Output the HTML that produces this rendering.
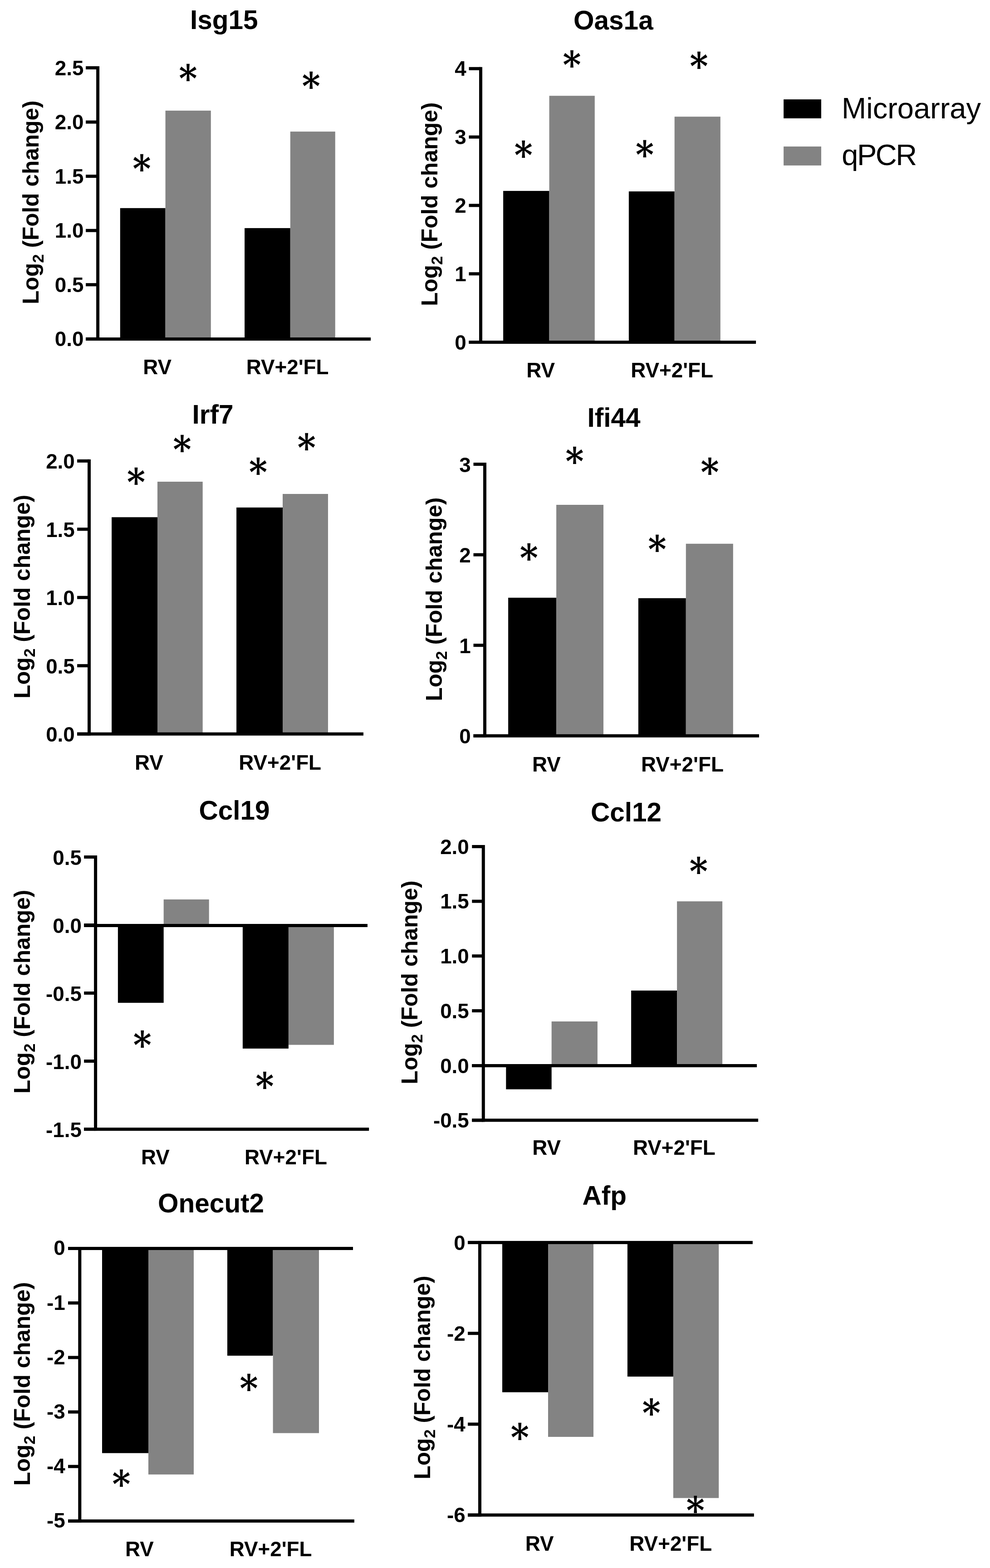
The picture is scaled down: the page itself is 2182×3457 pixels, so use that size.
<!DOCTYPE html>
<html lang="en">
<head>
<meta charset="utf-8">
<title>Microarray vs qPCR validation</title>
<style>
html,body{margin:0;padding:0;background:#fff;}
body{width:2182px;height:3457px;overflow:hidden;}
svg{display:block;}
text{fill:#000;font-family:"Liberation Sans",sans-serif;}
.tk{font-weight:bold;font-size:45.8px;text-anchor:end;}
.xl{font-weight:bold;font-size:45.8px;}
.tt{font-weight:bold;font-size:58.5px;}
.yl{font-weight:bold;font-size:49.6px;}
.yl .sub{font-size:35.0px;}
.lg{font-size:65.0px;}
.as{font-family:"DejaVu Serif",serif;font-weight:bold;font-size:83.2px;}
</style>
</head>
<body>
<svg width="2182" height="3457" viewBox="0 0 2182 3457">
<rect x="0" y="0" width="2182" height="3457" fill="#fff"/>
<g id="panel-Isg15">
<rect x="264.8" y="458.8" width="99.8" height="288.5" fill="#000"/>
<rect x="364.6" y="243.9" width="100.2" height="503.4" fill="#838383"/>
<rect x="539.1" y="502.9" width="100.7" height="244.4" fill="#000"/>
<rect x="639.8" y="290.1" width="99" height="457.2" fill="#838383"/>
<rect x="212.1" y="146" width="7" height="604.8" fill="#000"/>
<rect x="189.1" y="146" width="26.5" height="7" fill="#000"/>
<rect x="189.1" y="265.6" width="26.5" height="7" fill="#000"/>
<rect x="189.1" y="385.1" width="26.5" height="7" fill="#000"/>
<rect x="189.1" y="504.7" width="26.5" height="7" fill="#000"/>
<rect x="189.1" y="624.2" width="26.5" height="7" fill="#000"/>
<rect x="189.1" y="743.8" width="26.5" height="7" fill="#000"/>
<rect x="189.1" y="744" width="628" height="7" fill="#000"/>
<text transform="translate(184.5 165.55)" class="tk">2.5</text>
<text transform="translate(184.5 285.15)" class="tk">2.0</text>
<text transform="translate(184.5 404.65)" class="tk">1.5</text>
<text transform="translate(184.5 524.25)" class="tk">1.0</text>
<text transform="translate(184.5 643.75)" class="tk">0.5</text>
<text transform="translate(184.5 763.35)" class="tk">0.0</text>
<text transform="translate(315.15 825.3)" class="xl">RV</text>
<text transform="translate(542.65 825.3)" class="xl">RV+2'FL</text>
<text transform="translate(418.9 64.2)" class="tt">Isg15</text>
<text transform="translate(85 670.7) rotate(-90)" class="yl">Log<tspan class="sub" dy="10.8">2</tspan><tspan dy="-10.8"> (Fold change)</tspan></text>
<text transform="translate(394.15 201.57) scale(0.93 1)" class="as">*</text>
<text transform="translate(292.25 401.47) scale(0.93 1)" class="as">*</text>
<text transform="translate(665.45 218.57) scale(0.93 1)" class="as">*</text>
</g>
<g id="panel-Oas1a">
<rect x="1109.1" y="420.9" width="101.5" height="333.6" fill="#000"/>
<rect x="1210.6" y="211.2" width="100.2" height="543.3" fill="#838383"/>
<rect x="1385.9" y="422" width="100.8" height="332.5" fill="#000"/>
<rect x="1486.7" y="257.2" width="101.1" height="497.3" fill="#838383"/>
<rect x="1056" y="147.8" width="7" height="610.2" fill="#000"/>
<rect x="1033.5" y="147.8" width="26" height="7" fill="#000"/>
<rect x="1033.5" y="298.6" width="26" height="7" fill="#000"/>
<rect x="1033.5" y="449.4" width="26" height="7" fill="#000"/>
<rect x="1033.5" y="600.2" width="26" height="7" fill="#000"/>
<rect x="1033.5" y="751" width="26" height="7" fill="#000"/>
<rect x="1033.5" y="751" width="632.6" height="7" fill="#000"/>
<text transform="translate(1027.7 167.45)" class="tk">4</text>
<text transform="translate(1027.7 318.25)" class="tk">3</text>
<text transform="translate(1027.7 469.05)" class="tk">2</text>
<text transform="translate(1027.7 619.85)" class="tk">1</text>
<text transform="translate(1027.7 770.65)" class="tk">0</text>
<text transform="translate(1160.15 831.8)" class="xl">RV</text>
<text transform="translate(1390.15 831.8)" class="xl">RV+2'FL</text>
<text transform="translate(1264.05 65)" class="tt">Oas1a</text>
<text transform="translate(964.3 674.8) rotate(-90)" class="yl">Log<tspan class="sub" dy="10.8">2</tspan><tspan dy="-10.8"> (Fold change)</tspan></text>
<text transform="translate(1240.35 172.47) scale(0.93 1)" class="as">*</text>
<text transform="translate(1133.45 371.47) scale(0.93 1)" class="as">*</text>
<text transform="translate(1520.35 174.77) scale(0.93 1)" class="as">*</text>
<text transform="translate(1400.65 369.88) scale(0.93 1)" class="as">*</text>
</g>
<g id="panel-Irf7">
<rect x="246.1" y="1140.3" width="100.9" height="477.9" fill="#000"/>
<rect x="347" y="1062" width="99.7" height="556.2" fill="#838383"/>
<rect x="521.1" y="1118.9" width="101.9" height="499.3" fill="#000"/>
<rect x="623" y="1089" width="100" height="529.2" fill="#838383"/>
<rect x="193" y="1012.8" width="7" height="608.9" fill="#000"/>
<rect x="170.1" y="1012.8" width="26.4" height="7" fill="#000"/>
<rect x="170.1" y="1163.3" width="26.4" height="7" fill="#000"/>
<rect x="170.1" y="1313.8" width="26.4" height="7" fill="#000"/>
<rect x="170.1" y="1464.2" width="26.4" height="7" fill="#000"/>
<rect x="170.1" y="1614.7" width="26.4" height="7" fill="#000"/>
<rect x="170.1" y="1614.7" width="630.9" height="7" fill="#000"/>
<text transform="translate(164.8 1033.45)" class="tk">2.0</text>
<text transform="translate(164.8 1183.95)" class="tk">1.5</text>
<text transform="translate(164.8 1334.45)" class="tk">1.0</text>
<text transform="translate(164.8 1484.85)" class="tk">0.5</text>
<text transform="translate(164.8 1635.35)" class="tk">0.0</text>
<text transform="translate(297.05 1697.1)" class="xl">RV</text>
<text transform="translate(526.25 1697.1)" class="xl">RV+2'FL</text>
<text transform="translate(423.55 934)" class="tt">Irf7</text>
<text transform="translate(66.3 1540) rotate(-90)" class="yl">Log<tspan class="sub" dy="10.8">2</tspan><tspan dy="-10.8"> (Fold change)</tspan></text>
<text transform="translate(279.65 1092.38) scale(0.93 1)" class="as">*</text>
<text transform="translate(381.25 1020.08) scale(0.93 1)" class="as">*</text>
<text transform="translate(548.65 1069.88) scale(0.93 1)" class="as">*</text>
<text transform="translate(655.55 1016.08) scale(0.93 1)" class="as">*</text>
</g>
<g id="panel-Ifi44">
<rect x="1120.1" y="1317.8" width="106" height="304.5" fill="#000"/>
<rect x="1226.1" y="1113" width="103.9" height="509.3" fill="#838383"/>
<rect x="1406.9" y="1318.8" width="104.9" height="303.5" fill="#000"/>
<rect x="1511.8" y="1198.8" width="104" height="423.5" fill="#838383"/>
<rect x="1065" y="1020" width="7" height="605.8" fill="#000"/>
<rect x="1043.5" y="1020" width="25" height="7" fill="#000"/>
<rect x="1043.5" y="1219.6" width="25" height="7" fill="#000"/>
<rect x="1043.5" y="1419.2" width="25" height="7" fill="#000"/>
<rect x="1043.5" y="1618.8" width="25" height="7" fill="#000"/>
<rect x="1043.5" y="1618.8" width="629.5" height="7" fill="#000"/>
<text transform="translate(1037.7 1040.55)" class="tk">3</text>
<text transform="translate(1037.7 1240.15)" class="tk">2</text>
<text transform="translate(1037.7 1439.75)" class="tk">1</text>
<text transform="translate(1037.7 1639.35)" class="tk">0</text>
<text transform="translate(1172.95 1701.1)" class="xl">RV</text>
<text transform="translate(1413.05 1701.1)" class="xl">RV+2'FL</text>
<text transform="translate(1294.42 941.3)" class="tt">Ifi44</text>
<text transform="translate(974.4 1545.7) rotate(-90)" class="yl">Log<tspan class="sub" dy="10.8">2</tspan><tspan dy="-10.8"> (Fold change)</tspan></text>
<text transform="translate(1246.35 1045.67) scale(0.93 1)" class="as">*</text>
<text transform="translate(1145.45 1258.58) scale(0.93 1)" class="as">*</text>
<text transform="translate(1544.35 1069.88) scale(0.93 1)" class="as">*</text>
<text transform="translate(1428.25 1240.48) scale(0.93 1)" class="as">*</text>
</g>
<g id="panel-Ccl19">
<rect x="259.9" y="2040.5" width="100.8" height="170.4" fill="#000"/>
<rect x="360.7" y="1983" width="100" height="57.5" fill="#838383"/>
<rect x="534.9" y="2040.5" width="101" height="271.3" fill="#000"/>
<rect x="635.9" y="2040.5" width="100" height="263.1" fill="#838383"/>
<rect x="207.1" y="1886" width="7" height="607.1" fill="#000"/>
<rect x="185.2" y="1886" width="25.4" height="7" fill="#000"/>
<rect x="185.2" y="2036" width="25.4" height="7" fill="#000"/>
<rect x="185.2" y="2186" width="25.4" height="7" fill="#000"/>
<rect x="185.2" y="2336" width="25.4" height="7" fill="#000"/>
<rect x="185.2" y="2486.1" width="25.4" height="7" fill="#000"/>
<rect x="185.2" y="2037" width="624.8" height="7" fill="#000"/>
<rect x="185.2" y="2486.1" width="628" height="7" fill="#000"/>
<text transform="translate(179.9 1906.55)" class="tk">0.5</text>
<text transform="translate(179.9 2056.55)" class="tk">0.0</text>
<text transform="translate(179.9 2206.55)" class="tk">-0.5</text>
<text transform="translate(179.9 2356.55)" class="tk">-1.0</text>
<text transform="translate(179.9 2506.65)" class="tk">-1.5</text>
<text transform="translate(311.05 2567.1)" class="xl">RV</text>
<text transform="translate(539.05 2567.1)" class="xl">RV+2'FL</text>
<text transform="translate(438.55 1806.5)" class="tt">Ccl19</text>
<text transform="translate(66.4 2410.9) rotate(-90)" class="yl">Log<tspan class="sub" dy="10.8">2</tspan><tspan dy="-10.8"> (Fold change)</tspan></text>
<text transform="translate(293.45 2333.07) scale(0.93 1)" class="as">*</text>
<text transform="translate(563.15 2423.97) scale(0.93 1)" class="as">*</text>
</g>
<g id="panel-Ccl12">
<rect x="1115.3" y="2349.5" width="100.4" height="52.1" fill="#000"/>
<rect x="1215.7" y="2252" width="101.2" height="97.5" fill="#838383"/>
<rect x="1391.1" y="2183.9" width="101" height="165.6" fill="#000"/>
<rect x="1492.1" y="1987.2" width="100" height="362.3" fill="#838383"/>
<rect x="1061.8" y="1863" width="7" height="610.3" fill="#000"/>
<rect x="1040.3" y="1863" width="25" height="7" fill="#000"/>
<rect x="1040.3" y="1983.6" width="25" height="7" fill="#000"/>
<rect x="1040.3" y="2104.2" width="25" height="7" fill="#000"/>
<rect x="1040.3" y="2225" width="25" height="7" fill="#000"/>
<rect x="1040.3" y="2346" width="25" height="7" fill="#000"/>
<rect x="1040.3" y="2466.3" width="25" height="7" fill="#000"/>
<rect x="1040.3" y="2346" width="627.8" height="7" fill="#000"/>
<rect x="1040.3" y="2466.3" width="630.8" height="7" fill="#000"/>
<text transform="translate(1033.8 1882.75)" class="tk">2.0</text>
<text transform="translate(1033.8 2003.35)" class="tk">1.5</text>
<text transform="translate(1033.8 2123.95)" class="tk">1.0</text>
<text transform="translate(1033.8 2244.75)" class="tk">0.5</text>
<text transform="translate(1033.8 2365.75)" class="tk">0.0</text>
<text transform="translate(1033.8 2486.05)" class="tk">-0.5</text>
<text transform="translate(1173.15 2546.4)" class="xl">RV</text>
<text transform="translate(1394.95 2546.4)" class="xl">RV+2'FL</text>
<text transform="translate(1301.88 1810.5)" class="tt">Ccl12</text>
<text transform="translate(919.9 2390.4) rotate(-90)" class="yl">Log<tspan class="sub" dy="10.8">2</tspan><tspan dy="-10.8"> (Fold change)</tspan></text>
<text transform="translate(1519.55 1949.78) scale(0.93 1)" class="as">*</text>
</g>
<g id="panel-Onecut2">
<rect x="225" y="2752.5" width="102" height="451.2" fill="#000"/>
<rect x="327" y="2752.5" width="100" height="498.3" fill="#838383"/>
<rect x="501" y="2752.5" width="100.6" height="236.4" fill="#000"/>
<rect x="601.6" y="2752.5" width="101.4" height="407.1" fill="#838383"/>
<rect x="172.3" y="2749" width="7" height="607.9" fill="#000"/>
<rect x="150" y="2749" width="25.8" height="7" fill="#000"/>
<rect x="150" y="2869.2" width="25.8" height="7" fill="#000"/>
<rect x="150" y="2989.4" width="25.8" height="7" fill="#000"/>
<rect x="150" y="3109.5" width="25.8" height="7" fill="#000"/>
<rect x="150" y="3229.7" width="25.8" height="7" fill="#000"/>
<rect x="150" y="3349.9" width="25.8" height="7" fill="#000"/>
<rect x="150" y="2749" width="628" height="7" fill="#000"/>
<rect x="150" y="3349.9" width="630.9" height="7" fill="#000"/>
<text transform="translate(143.7 2767.45)" class="tk">0</text>
<text transform="translate(143.7 2887.65)" class="tk">-1</text>
<text transform="translate(143.7 3007.85)" class="tk">-2</text>
<text transform="translate(143.7 3127.95)" class="tk">-3</text>
<text transform="translate(143.7 3248.15)" class="tk">-4</text>
<text transform="translate(143.7 3368.35)" class="tk">-5</text>
<text transform="translate(275.95 3431.3)" class="xl">RV</text>
<text transform="translate(505.65 3431.3)" class="xl">RV+2'FL</text>
<text transform="translate(348.07 2673)" class="tt">Onecut2</text>
<text transform="translate(66.4 3275.6) rotate(-90)" class="yl">Log<tspan class="sub" dy="10.8">2</tspan><tspan dy="-10.8"> (Fold change)</tspan></text>
<text transform="translate(247.35 3300.77) scale(0.93 1)" class="as">*</text>
<text transform="translate(528.25 3089.77) scale(0.93 1)" class="as">*</text>
</g>
<g id="panel-Afp">
<rect x="1107" y="2739.4" width="101" height="330.1" fill="#000"/>
<rect x="1208" y="2739.4" width="100" height="428.5" fill="#838383"/>
<rect x="1382.9" y="2739.4" width="101" height="295.6" fill="#000"/>
<rect x="1483.9" y="2739.4" width="100.3" height="563.3" fill="#838383"/>
<rect x="1054" y="2735.9" width="7" height="607.8" fill="#000"/>
<rect x="1031.1" y="2735.9" width="26.4" height="7" fill="#000"/>
<rect x="1031.1" y="2936.2" width="26.4" height="7" fill="#000"/>
<rect x="1031.1" y="3136.4" width="26.4" height="7" fill="#000"/>
<rect x="1031.1" y="3336.7" width="26.4" height="7" fill="#000"/>
<rect x="1031.1" y="2735.9" width="627.8" height="7" fill="#000"/>
<rect x="1031.1" y="3336.7" width="630.7" height="7" fill="#000"/>
<text transform="translate(1025.8 2755.55)" class="tk">0</text>
<text transform="translate(1025.8 2955.85)" class="tk">-2</text>
<text transform="translate(1025.8 3156.05)" class="tk">-4</text>
<text transform="translate(1025.8 3356.35)" class="tk">-6</text>
<text transform="translate(1157.85 3419.2)" class="xl">RV</text>
<text transform="translate(1387.35 3419.2)" class="xl">RV+2'FL</text>
<text transform="translate(1283.55 2656.3)" class="tt">Afp</text>
<text transform="translate(947.8 3261.6) rotate(-90)" class="yl">Log<tspan class="sub" dy="10.8">2</tspan><tspan dy="-10.8"> (Fold change)</tspan></text>
<text transform="translate(1125.45 3197.67) scale(0.93 1)" class="as">*</text>
<text transform="translate(1415.45 3143.67) scale(0.93 1)" class="as">*</text>
<text transform="translate(1512.45 3358.88) scale(0.93 1)" class="as">*</text>
</g>
<g id="legend">
<rect x="1727.1" y="219.1" width="82.9" height="41.8" fill="#000"/>
<rect x="1727.1" y="323" width="82.9" height="41.8" fill="#838383"/>
<text transform="translate(1855.05 260.9)" class="lg">Microarray</text>
<text transform="translate(1855.25 363.8)" class="lg" letter-spacing="-2.5">qPCR</text>
</g>
</svg>
</body>
</html>
